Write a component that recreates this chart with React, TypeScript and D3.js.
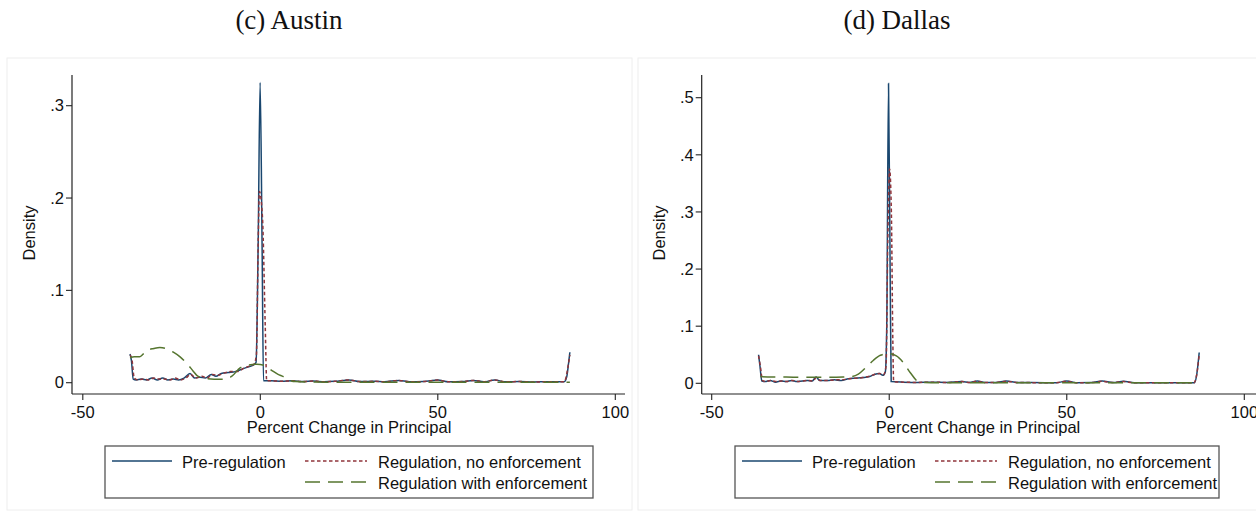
import React from "react";
import * as d3 from "d3";

type Pt = [number, number];

const xTicks = [-50, 0, 50, 100];
const austinYTicks = [0, 0.1, 0.2, 0.3];
const dallasYTicks = [0, 0.1, 0.2, 0.3, 0.4, 0.5];
const legendLabels = ["Pre-regulation", "Regulation, no enforcement", "Regulation with enforcement"];

const rightTail: Pt[] = [
  [3, 0.002], [6, 0.0015], [9, 0.002], [12, 0.0012], [15, 0.0018], [18, 0.001], [21, 0.0015],
  [25, 0.003], [28, 0.0012], [32, 0.0015], [35, 0.001], [39, 0.0025], [42, 0.001], [46, 0.0012],
  [50, 0.0028], [53, 0.001], [57, 0.0012], [60, 0.0025], [63, 0.001], [66, 0.003], [69, 0.001],
  [73, 0.0012], [77, 0.0008], [81, 0.001], [85.6, 0.001],
];

const austinPre: Pt[] = [
  [-36.7, 0.031], [-36.3, 0.024], [-35.8, 0.004], [-35, 0.003], [-33.5, 0.004], [-32, 0.003],
  [-30.5, 0.005], [-29, 0.003], [-27.5, 0.005], [-26, 0.003], [-24.5, 0.004], [-23, 0.003],
  [-21.5, 0.005], [-19.8, 0.01], [-18.5, 0.005], [-17, 0.006], [-15.5, 0.005], [-13.8, 0.009],
  [-12.5, 0.007], [-11, 0.01], [-9, 0.011], [-7, 0.012], [-5, 0.015], [-3.5, 0.017], [-2, 0.019],
  [-1.2, 0.022], [-0.6, 0.15], [-0.05, 0.325], [0.5, 0.15], [0.9, 0.002],
  ...rightTail, [86.3, 0.006], [86.8, 0.02], [87.2, 0.033],
];

const austinNoEnf: Pt[] = [
  [-36.7, 0.03], [-36.2, 0.026], [-35.5, 0.005], [-34.5, 0.003], [-33, 0.004], [-31.5, 0.003],
  [-30, 0.005], [-28.5, 0.004], [-27, 0.004], [-25.5, 0.003], [-24, 0.005], [-22.5, 0.003],
  [-21, 0.005], [-19.6, 0.009], [-18.2, 0.005], [-16.5, 0.007], [-15, 0.005], [-13.5, 0.009],
  [-12, 0.008], [-10.5, 0.01], [-8.5, 0.012], [-6.5, 0.012], [-4.5, 0.016], [-3, 0.018],
  [-1.8, 0.02], [-1.1, 0.03], [-0.6, 0.15], [-0.25, 0.207], [0.6, 0.18], [1.4, 0.06], [1.8, 0.002],
  ...rightTail, [86, 0.004], [86.7, 0.018], [87.2, 0.03],
];

const austinEnf: Pt[] = [
  [-36.7, 0.027], [-35.5, 0.028], [-34, 0.028], [-33, 0.031], [-32, 0.035], [-30, 0.037],
  [-28.3, 0.038], [-26.5, 0.037], [-24.5, 0.033], [-22.6, 0.028], [-20.5, 0.02], [-19, 0.013],
  [-17.9, 0.008], [-16, 0.005], [-13, 0.0037], [-10, 0.0037], [-8, 0.007], [-5.7, 0.016],
  [-3.5, 0.019], [-1, 0.02], [1, 0.019], [3, 0.014], [5, 0.009], [6.5, 0.0065], [8, 0.003],
  [10, 0.0012], [14, 0.0008], [20, 0.0005], [30, 0.0005], [45, 0.0004], [60, 0.0004],
  [75, 0.0004], [87.2, 0.0004],
];

const dallasPre: Pt[] = [
  [-36.8, 0.05], [-36.4, 0.03], [-35.9, 0.004], [-35, 0.003], [-33.5, 0.005], [-32, 0.002],
  [-30.5, 0.004], [-29, 0.003], [-27.5, 0.005], [-26, 0.003], [-24.5, 0.004], [-23, 0.005],
  [-21.7, 0.004], [-20.6, 0.011], [-19.6, 0.005], [-17.5, 0.005], [-15.5, 0.006], [-13.5, 0.005],
  [-11.5, 0.008], [-9.5, 0.009], [-7.5, 0.01], [-5.5, 0.012], [-4, 0.016], [-2.8, 0.017],
  [-1.8, 0.014], [-1.1, 0.02], [-0.7, 0.1], [-0.2, 0.525], [0.25, 0.2], [0.55, 0.003],
  [4, 0.002], [8, 0.0015], [12, 0.002], [16, 0.0015], [20.5, 0.003], [22.5, 0.0015], [24.8, 0.004],
  [27, 0.0015], [30, 0.0015], [33, 0.004], [36, 0.0015], [40, 0.0012], [44, 0.001], [47, 0.001],
  [50, 0.004], [53, 0.001], [57, 0.0012], [60, 0.004], [63, 0.0012], [66, 0.0035], [69, 0.001],
  [73, 0.001], [77, 0.0008], [81, 0.001], [86, 0.001], [86.6, 0.015], [87.3, 0.054],
];

const dallasNoEnf: Pt[] = [
  [-36.8, 0.048], [-36.3, 0.03], [-35.7, 0.005], [-34.8, 0.003], [-33.3, 0.005], [-31.8, 0.003],
  [-30.3, 0.004], [-28.8, 0.003], [-27.3, 0.005], [-25.8, 0.003], [-24.3, 0.004], [-22.8, 0.005],
  [-21.5, 0.004], [-20.5, 0.01], [-19.5, 0.005], [-17.3, 0.005], [-15.3, 0.006], [-13.3, 0.006],
  [-11.3, 0.008], [-9.3, 0.009], [-7.3, 0.01], [-5.3, 0.013], [-3.8, 0.016], [-2.6, 0.017],
  [-1.6, 0.015], [-0.9, 0.03], [-0.4, 0.25], [0.1, 0.375], [0.6, 0.3], [1.0, 0.08], [1.25, 0.003],
  [4, 0.002], [8, 0.0015], [12, 0.002], [16, 0.0015], [20.5, 0.003], [22.5, 0.0015], [24.8, 0.0035],
  [27, 0.0015], [30, 0.0015], [33, 0.0035], [36, 0.0015], [40, 0.0012], [44, 0.001], [47, 0.001],
  [50, 0.0035], [53, 0.001], [57, 0.0012], [60, 0.0035], [63, 0.0012], [66, 0.003], [69, 0.001],
  [73, 0.001], [77, 0.0008], [81, 0.001], [85.8, 0.001], [86.5, 0.012], [87.3, 0.05],
];

const dallasEnf: Pt[] = [
  [-36.3, 0.0117], [-33, 0.011], [-29, 0.011], [-25, 0.0105], [-21, 0.0105], [-17, 0.0105],
  [-13, 0.011], [-10.5, 0.012], [-8.7, 0.016], [-6.5, 0.028], [-4.5, 0.04], [-2.5, 0.049],
  [-0.3, 0.052], [2, 0.048], [4, 0.036], [6, 0.018], [8.2, 0.003], [10, 0.0015], [15, 0.001],
  [25, 0.0008], [40, 0.0008], [55, 0.0008], [70, 0.0008], [87.2, 0.0008],
];

const COLORS = ["#1a476f", "#90353b", "#55752f"];
const DASHES = [null, "3.5,2.5", "15,8"];
const FONT = "'Liberation Sans', Arial, Helvetica, sans-serif";
const FS = 16.5;

interface PanelProps {
  ox: number;
  title: string;
  titleX: number;
  yTicks: number[];
  yMax: number;
  yZero: number;
  yTop: number;
  xLeft: number;
  xRight: number;
  axisX: number;
  axisEnd: number;
  frameW: number;
  legendX: number;
  legendW: number;
  series: Pt[][];
}

function Panel(p: PanelProps) {
  const x = d3.scaleLinear().domain([-50, 100]).range([p.xLeft, p.xRight]);
  const y = d3.scaleLinear().domain([0, p.yMax]).range([p.yZero, p.yTop]);
  const line = d3
    .line<Pt>()
    .x((d) => x(d[0]))
    .y((d) => y(d[1]))
    .curve(d3.curveMonotoneX);
  const axisY = 394;
  const fmt = (v: number) => (v === 0 ? "0" : d3.format(".1f")(v).replace(/^0/, ""));
  const lx = p.legendX;
  return (
    <g>
      <text x={p.titleX} y={29} textAnchor="middle" fontFamily="'Liberation Serif', 'Times New Roman', serif" fontSize={27} fill="#111">
        {p.title}
      </text>
      <rect x={p.ox} y={58} width={p.frameW} height={452} fill="none" stroke="#eeeeee" strokeWidth={1} />
      <line x1={p.axisX} x2={p.axisX} y1={75} y2={axisY} stroke="#222" strokeWidth={1.2} />
      {p.yTicks.map((t) => (
        <g key={"y" + t}>
          <line x1={p.axisX - 6} x2={p.axisX} y1={y(t)} y2={y(t)} stroke="#222" strokeWidth={1.1} />
          <text x={p.axisX - 8} y={y(t)} dy="0.35em" textAnchor="end" fontFamily={FONT} fontSize={FS} fill="#111">
            {fmt(t)}
          </text>
        </g>
      ))}
      <text
        transform={`translate(${p.axisX - 37},233) rotate(-90)`}
        textAnchor="middle"
        fontFamily={FONT}
        fontSize={FS}
        fill="#111"
      >
        Density
      </text>
      <line x1={p.axisX} x2={p.axisEnd} y1={axisY} y2={axisY} stroke="#222" strokeWidth={1.2} />
      {xTicks.map((t) => (
        <g key={"x" + t}>
          <line x1={x(t)} x2={x(t)} y1={axisY} y2={axisY + 6} stroke="#222" strokeWidth={1.1} />
          <text x={x(t)} y={418} textAnchor="middle" fontFamily={FONT} fontSize={FS} fill="#111">
            {t}
          </text>
        </g>
      ))}
      <text x={(p.xLeft + p.xRight) / 2} y={433} textAnchor="middle" fontFamily={FONT} fontSize={FS} fill="#111">
        Percent Change in Principal
      </text>
      {p.series.map((s, i) => (
        <path
          key={"s" + i}
          d={line(s) || ""}
          fill="none"
          stroke={COLORS[i]}
          strokeWidth={1.5}
          strokeDasharray={DASHES[i] || undefined}
        />
      ))}
      <rect x={lx} y={446} width={p.legendW} height={52} fill="#fff" stroke="#555" strokeWidth={1.3} />
      <line x1={lx + 7} x2={lx + 67} y1={461} y2={461} stroke={COLORS[0]} strokeWidth={1.4} />
      <text x={lx + 77} y={467.5} fontFamily={FONT} fontSize={FS} fill="#111">
        {legendLabels[0]}
      </text>
      <line x1={lx + 200} x2={lx + 262} y1={461} y2={461} stroke={COLORS[1]} strokeWidth={1.4} strokeDasharray={DASHES[1] || undefined} />
      <text x={lx + 273} y={467.5} fontFamily={FONT} fontSize={FS} fill="#111">
        {legendLabels[1]}
      </text>
      <line x1={lx + 200} x2={lx + 262} y1={482} y2={482} stroke={COLORS[2]} strokeWidth={1.4} strokeDasharray={DASHES[2] || undefined} />
      <text x={lx + 273} y={489} fontFamily={FONT} fontSize={FS} fill="#111">
        {legendLabels[2]}
      </text>
    </g>
  );
}

export default function App() {
  return (
    <svg width={1256} height={513} style={{ display: "block", position: "absolute", left: 0, top: 0, background: "#fff" }}>
      <rect x={0} y={0} width={1256} height={513} fill="#fff" />
      <Panel
        ox={7}
        title="(c) Austin"
        titleX={289}
        yTicks={austinYTicks}
        yMax={0.3}
        yZero={382.7}
        yTop={105.7}
        xLeft={82.8}
        xRight={615.3}
        axisX={72}
        axisEnd={625}
        frameW={625}
        legendX={105}
        legendW={488}
        series={[austinPre, austinNoEnf, austinEnf]}
      />
      <Panel
        ox={638}
        title="(d) Dallas"
        titleX={897}
        yTicks={dallasYTicks}
        yMax={0.5}
        yZero={383.3}
        yTop={97.7}
        xLeft={711.7}
        xRight={1244.3}
        axisX={701.7}
        axisEnd={1256}
        frameW={625}
        legendX={735}
        legendW={484}
        series={[dallasPre, dallasNoEnf, dallasEnf]}
      />
    </svg>
  );
}
